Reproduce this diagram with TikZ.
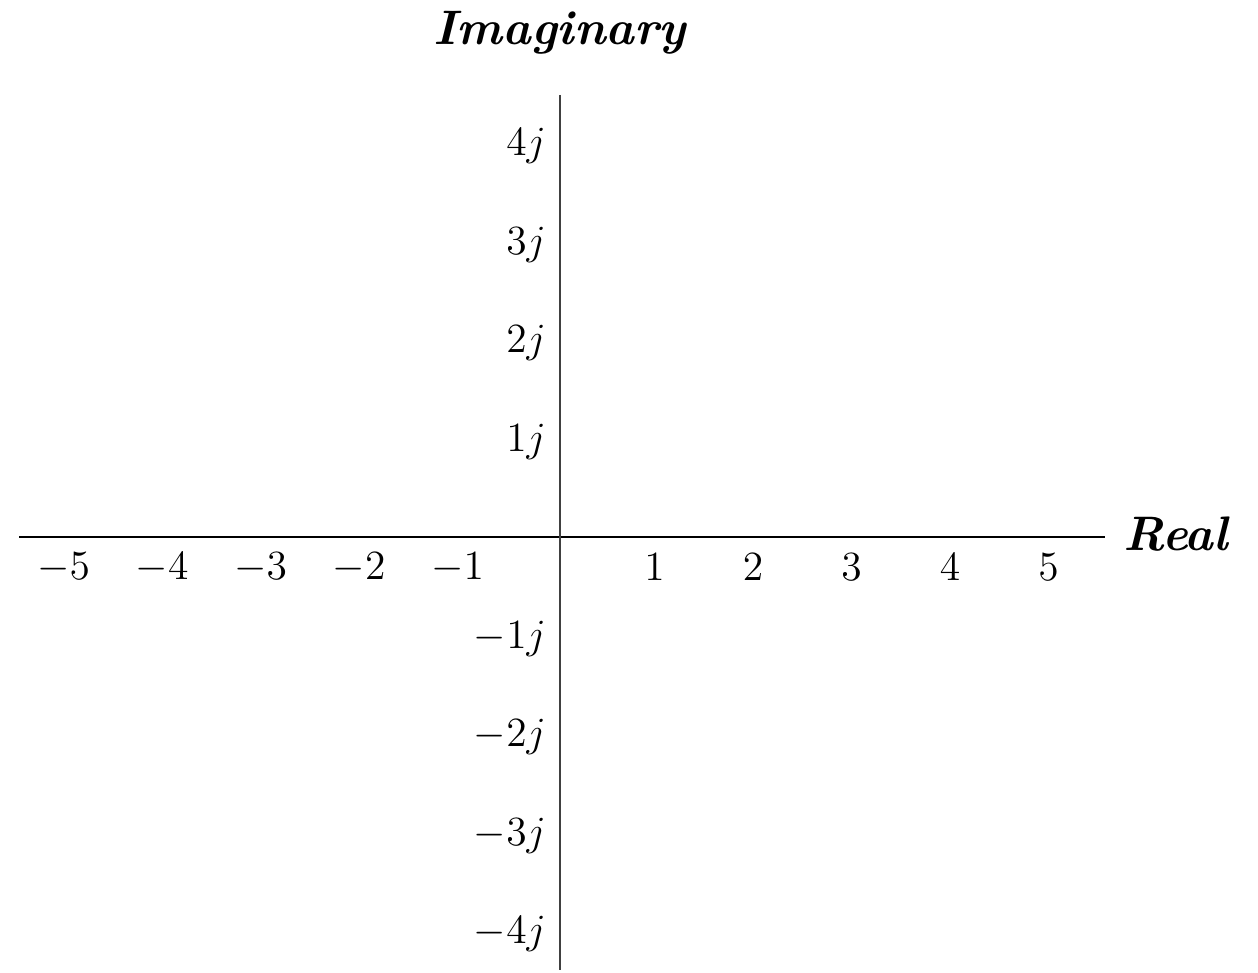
\documentclass[tikz,border=0pt]{standalone}
\usepackage{amsmath}
\usepackage{amssymb}
\usepackage{tikz}
\usetikzlibrary{
    arrows.meta,
    calc
}

\begin{document}
\begin{tikzpicture}[scale=1]
\useasboundingbox (-5.665,-4.426) rectangle (7.107,5.452);
% Axes
\coordinate (xl) at (-5.47,0);
\coordinate (xr) at (5.55,0);
\coordinate (yt) at (0.02,4.49);
\coordinate (yb) at (0.02,-4.40);
\draw[line width=0.45pt] (xl) -- (xr);
\draw[line width=0.4pt, black!75] (yt) -- (yb);

% Tick labels
\foreach \k in {1,...,5} {
  \node[font=\fontsize{11.5}{13}\selectfont] (rp\k) at (\k-0.02,-0.31) {$\k$};
  \node[font=\fontsize{11.5}{13}\selectfont] (rn\k) at (-\k-0.02,-0.31) {$-\k$};
}
\foreach \k in {1,...,4} {
  \node[font=\fontsize{11.5}{13}\selectfont, anchor=east] (ip\k) at (0.0,\k-0.03) {$\k j$};
  \node[font=\fontsize{11.5}{13}\selectfont, anchor=east] (in\k) at (0.0,-\k-0.03) {$-\k j$};
}

% Axis names
\node[font=\fontsize{14}{16}\selectfont\bfseries\itshape] (im) at (0.02,5.12) {Imaginary};
\node[font=\fontsize{14}{16}\selectfont\bfseries\itshape] (re) at (6.27,0.03) {Real};
\end{tikzpicture}
\end{document}
